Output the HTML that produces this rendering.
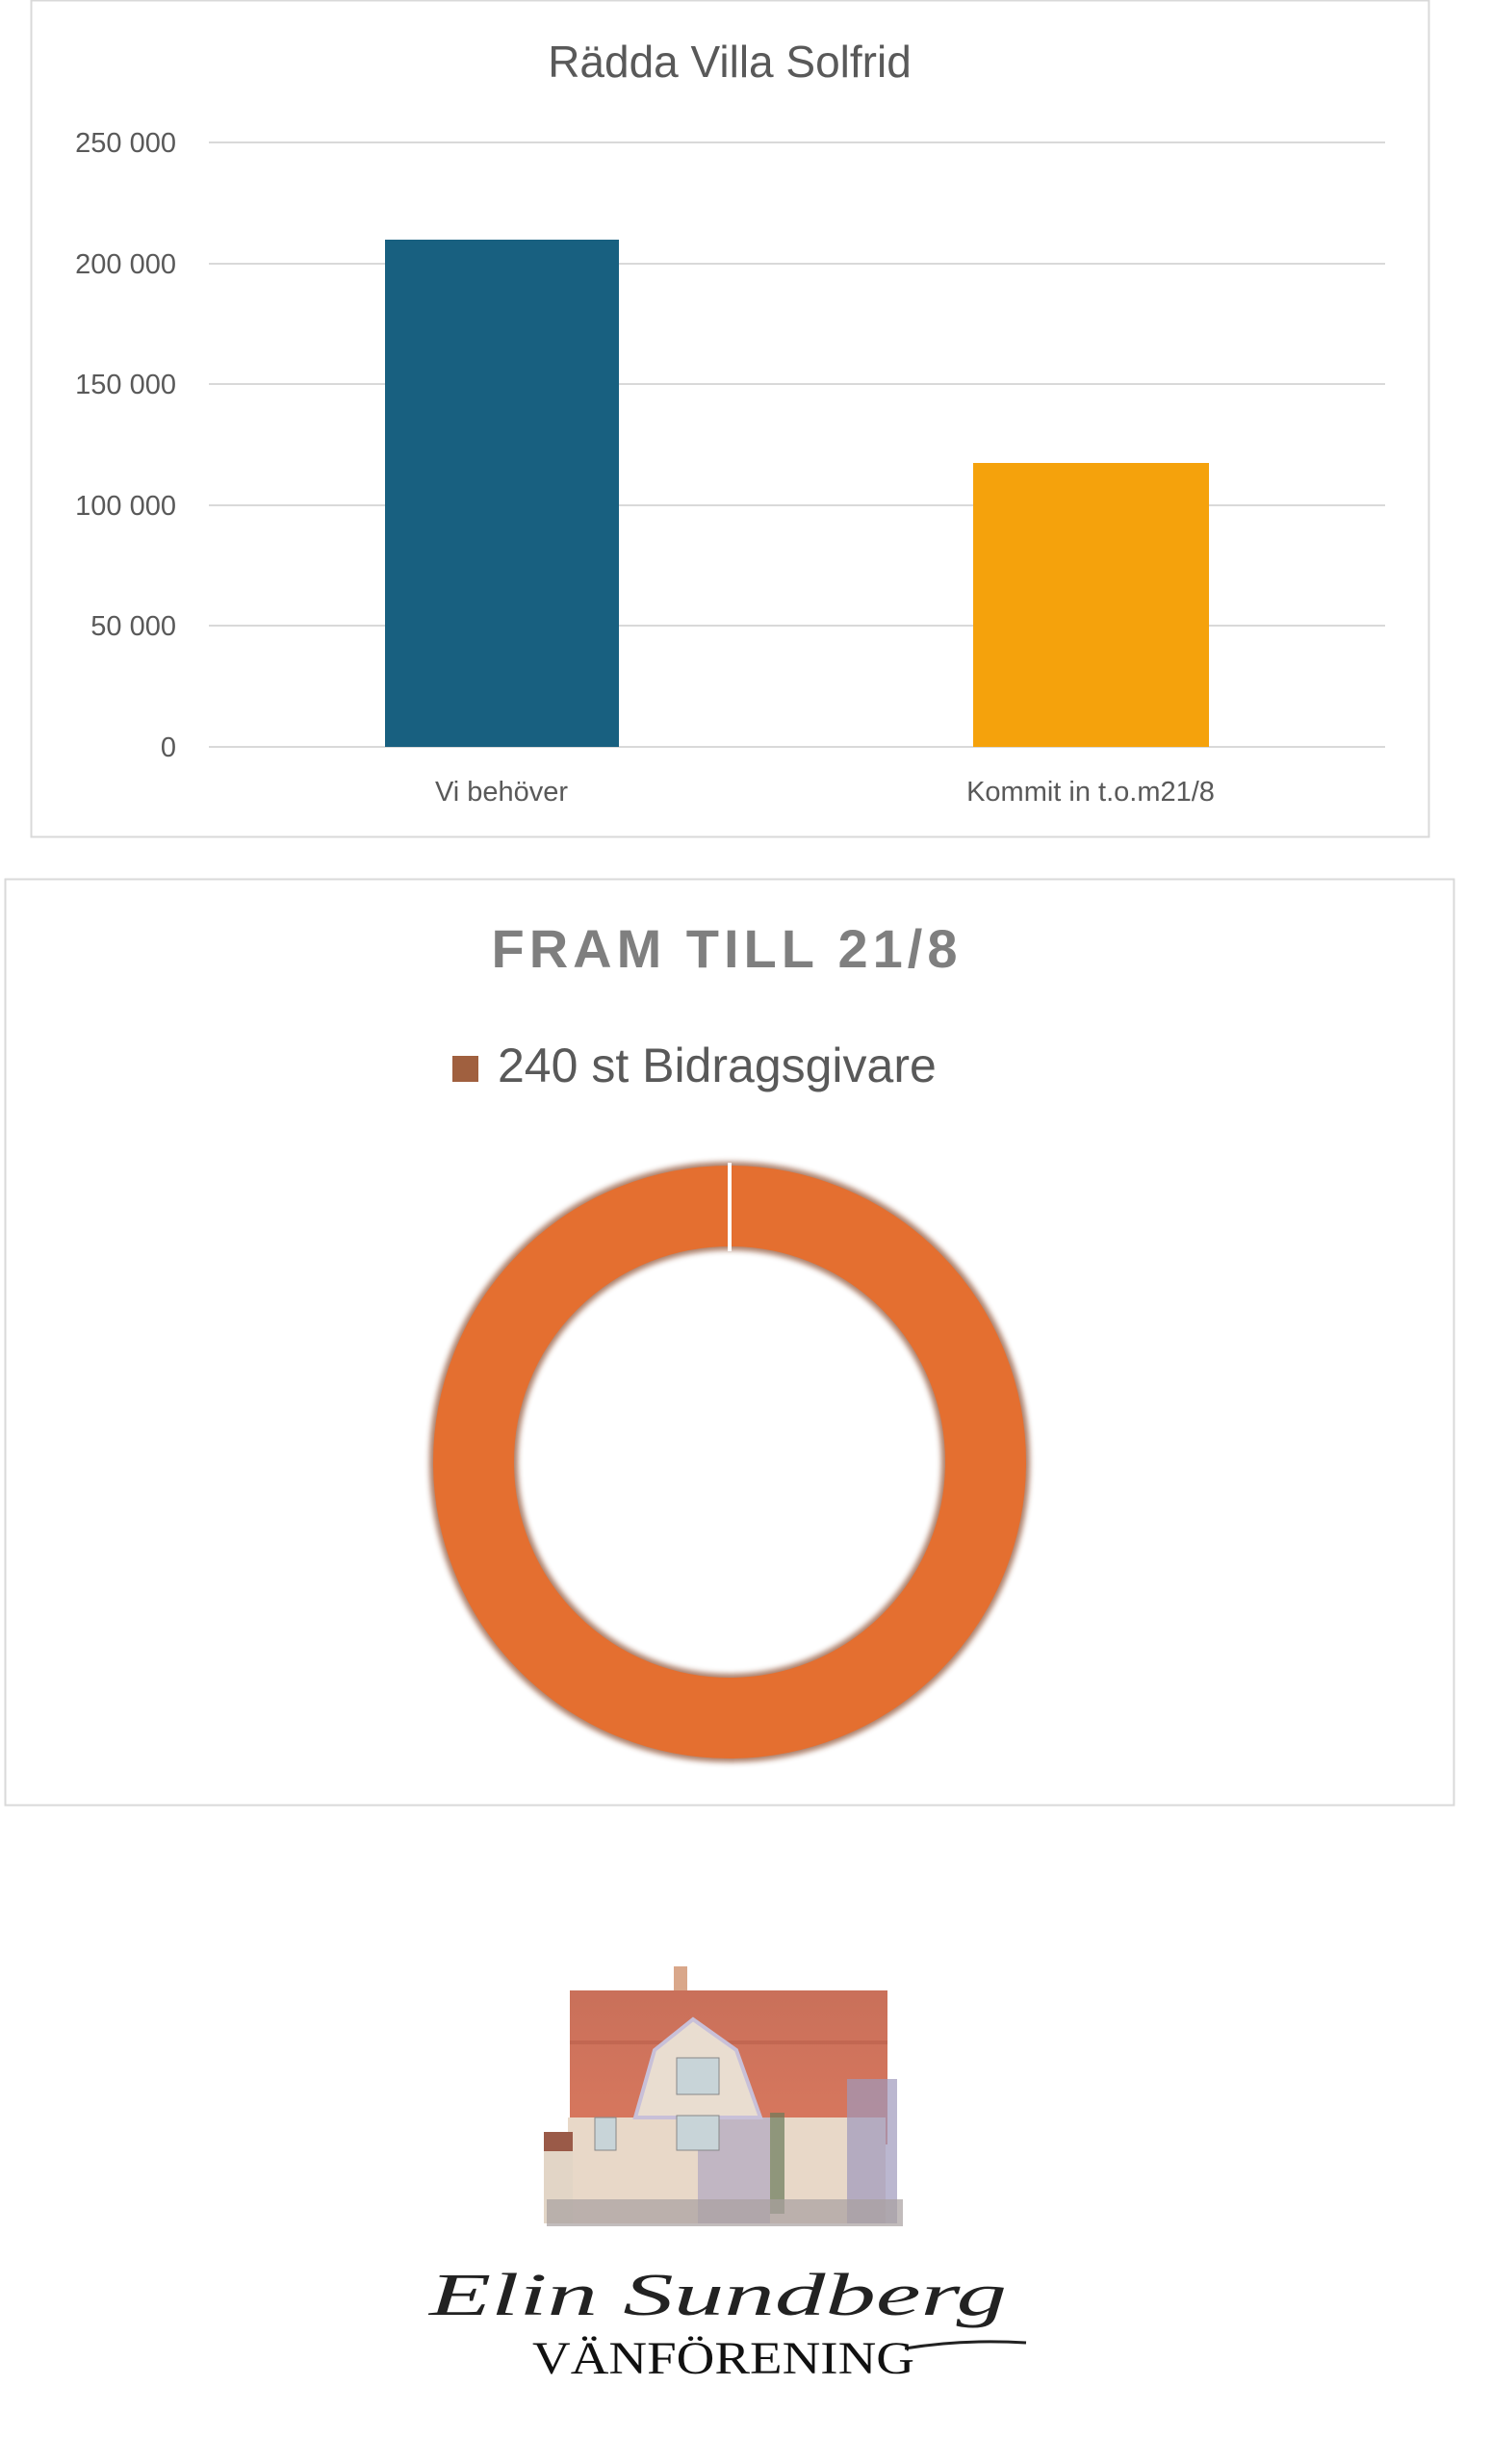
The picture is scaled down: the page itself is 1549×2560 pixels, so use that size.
<!DOCTYPE html>
<html><head><meta charset="utf-8"><style>
html,body{margin:0;padding:0;background:#fff;width:1549px;height:2560px;overflow:hidden;font-family:"Liberation Sans",sans-serif}
</style></head><body>
<svg width="1549" height="2560" viewBox="0 0 1549 2560" xmlns="http://www.w3.org/2000/svg">
<defs>
<filter id="sh" x="-20%" y="-20%" width="140%" height="140%"><feGaussianBlur stdDeviation="3"/></filter>
<linearGradient id="roof" x1="0" y1="0" x2="0" y2="1"><stop offset="0" stop-color="#c9705a"/><stop offset="1" stop-color="#d9785e"/></linearGradient>
</defs>
<!-- Chart 1 -->
<rect x="32.5" y="0.5" width="1452" height="869" fill="#fff" stroke="#d9d9d9" stroke-width="2"/>
<text x="758" y="80" text-anchor="middle" font-size="46" fill="#595959">Rädda Villa Solfrid</text>
<g stroke="#d9d9d9" stroke-width="2">
<line x1="217" x2="1439" y1="148" y2="148"/><line x1="217" x2="1439" y1="274" y2="274"/>
<line x1="217" x2="1439" y1="399" y2="399"/><line x1="217" x2="1439" y1="525" y2="525"/>
<line x1="217" x2="1439" y1="650" y2="650"/><line x1="217" x2="1439" y1="776" y2="776"/>
</g>
<g font-size="29" fill="#595959" text-anchor="end">
<text x="183" y="158">250 000</text><text x="183" y="284">200 000</text>
<text x="183" y="409">150 000</text><text x="183" y="535">100 000</text>
<text x="183" y="660">50 000</text><text x="183" y="786">0</text>
</g>
<rect x="400" y="249" width="243" height="527" fill="#186080"/>
<rect x="1011" y="481" width="245" height="295" fill="#f5a20c"/>
<g font-size="29" fill="#595959" text-anchor="middle">
<text x="521" y="832">Vi behöver</text><text x="1133" y="832">Kommit in t.o.m21/8</text>
</g>
<!-- Chart 2 -->
<rect x="5.5" y="913.5" width="1505" height="962" fill="#fff" stroke="#d9d9d9" stroke-width="2"/>
<text x="755" y="1005" text-anchor="middle" font-size="56" font-weight="bold" letter-spacing="5" fill="#7f7f7f">FRAM TILL 21/8</text>
<rect x="470" y="1097" width="27" height="27" fill="#a0603f"/>
<text x="517" y="1124" font-size="50" fill="#595959">240 st Bidragsgivare</text>
<g>
<circle cx="758" cy="1519" r="266" fill="none" stroke="#8a4a2a" stroke-width="92" filter="url(#sh)" opacity="0.7"/>
<circle cx="758" cy="1519" r="266" fill="none" stroke="#e46f30" stroke-width="84"/>
<line x1="758" y1="1208" x2="758" y2="1300" stroke="#fff" stroke-width="4"/>
</g>
<!-- Logo house -->
<g>
<rect x="700" y="2043" width="14" height="28" fill="#d9a78a"/>
<rect x="592" y="2068" width="330" height="160" fill="url(#roof)"/>
<rect x="592" y="2120" width="330" height="4" fill="#b55c48" opacity="0.5"/>
<rect x="590" y="2200" width="330" height="110" fill="#e8d8c8"/>
<rect x="725" y="2200" width="75" height="110" fill="#a6a0c0" opacity="0.6"/>
<path d="M660 2200 L680 2130 L720 2098 L765 2130 L790 2200 Z" fill="#e9ddd0" stroke="#c8c0d8" stroke-width="4"/>
<rect x="565" y="2215" width="30" height="20" fill="#9a5a48"/>
<rect x="565" y="2235" width="30" height="75" fill="#e2d5c6"/>
<rect x="703" y="2138" width="44" height="38" fill="#c8d4d8" stroke="#888" stroke-width="1"/>
<rect x="703" y="2198" width="44" height="36" fill="#c8d4d8" stroke="#888" stroke-width="1"/>
<rect x="618" y="2200" width="22" height="34" fill="#c8d4d8" stroke="#888" stroke-width="1"/>
<rect x="800" y="2195" width="15" height="105" fill="#6a7a5a" opacity="0.7"/>
<rect x="880" y="2160" width="52" height="150" fill="#9e98bc" opacity="0.7"/>
<rect x="568" y="2285" width="370" height="28" fill="#a8a0a0" opacity="0.7"/>
</g>
<text x="446" y="2405" font-family="Liberation Serif,serif" font-style="italic" font-size="62" fill="#222" textLength="600" lengthAdjust="spacingAndGlyphs">Elin Sundberg</text>
<path d="M940 2440 Q1000 2430 1066 2434" stroke="#222" stroke-width="3" fill="none"/>
<text x="553" y="2466" font-family="Liberation Serif,serif" font-size="48" fill="#111" textLength="397" lengthAdjust="spacingAndGlyphs">VÄNFÖRENING</text>
</svg>
</body></html>
